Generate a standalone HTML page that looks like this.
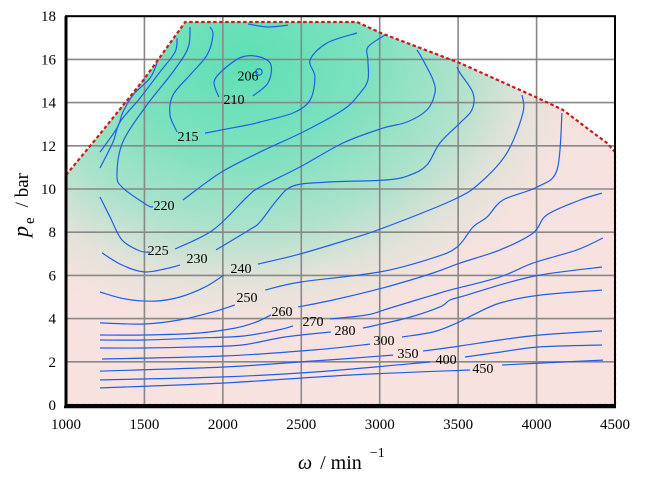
<!DOCTYPE html>
<html><head><meta charset="utf-8"><style>
html,body{margin:0;padding:0;background:#fff;}
svg{display:block;font-family:"Liberation Serif",serif;}
</style></head><body>
<svg id="chart" width="645" height="478" viewBox="0 0 645 478" xmlns="http://www.w3.org/2000/svg">
<defs>
<radialGradient id="fillGrad" gradientUnits="userSpaceOnUse" cx="0" cy="0" r="1" gradientTransform="translate(245,60) scale(390,305)">
<stop offset="0" stop-color="#5fe0b5"/>
<stop offset="0.3" stop-color="#7be1be"/>
<stop offset="0.55" stop-color="#ade2cb"/>
<stop offset="0.72" stop-color="#e2e2d9"/>
<stop offset="0.85" stop-color="#f5e2df"/>
<stop offset="1" stop-color="#f7e2e0"/>
</radialGradient>
<clipPath id="plotClip"><rect x="66" y="16" width="549" height="389"/></clipPath>
</defs>
<g id="fill-layer"></g>
<g id="grid-layer"></g>
<g id="contour-layer" clip-path="url(#plotClip)"></g>
<g id="boundary-layer"></g>
<g id="frame-layer"></g>
<g id="tick-layer"></g>
<text transform="translate(28,205) rotate(-90)" font-size="22" text-anchor="middle"><tspan font-style="italic">p</tspan><tspan font-size="15" dx="2" dy="6">e</tspan><tspan dy="-6" dx="10" font-size="19">/ bar</tspan></text>
<text x="298" y="469" font-size="20"><tspan font-style="italic">ω</tspan><tspan dx="8">/ min</tspan><tspan font-size="14" dx="8" dy="-12">−1</tspan></text>
</svg>
<script>
const xTicks = [1000,1500,2000,2500,3000,3500,4000,4500];
const yTicks = [0,2,4,6,8,10,12,14,16,18];
const boundaryRpm = [1000,1200,1500,1760,2855,3015,3512,4009,4168,4321,4449,4500,4500,1000];
const boundaryBar = [10.65,12.4,15.1,17.73,17.73,17.2,15.83,14.21,13.66,12.82,12.13,11.71,0,0];
const contourLevels = [206,210,210,215,215,220,220,225,225,225,225,230,230,240,240,250,250,260,260,270,270,280,280,300,300,350,350,400,400,450,450];
const contourRpm = [
 [2230],
 [2192,2288,2307,2237,2122,2001,1944,1975],
 [2160,2288,2415],
 [1918,1937,1899,1791,1682,1663,1708],
 [1886,2154,2237,2447,2556,2587,2556,2664,2855],
 [1791,1778,1682,1516,1363,1325,1363,1516,1555],
 [1746,1982,2237,2511,2766,2874,2925,2925,2925,3034],
 [1708,1695,1599,1472,1344,1300,1217],
 [1580,1536,1427,1363,1325,1217],
 [1217,1281,1357,1472,1536],
 [1695,1937,2154,2237,2492,2766,3021,3174,3301,3352,3340,3276,3238],
 [1230,1357,1497,1631,1727],
 [1956,2167,2237,2345,2447,2664,3046,3193,3301,3384,3512,3588,3595,3512,3493],
 [1217,1376,1567,1727,1886,2007],
 [2224,2466,2791,3021,3467,3639,3811,3913,3907],
 [1217,1497,1727,1937,2077],
 [2269,2492,3002,3340,3493,3595,3684,3786,4003,4130,4162],
 [1217,1497,1842,2077,2211,2307],
 [2479,2702,3021,3340,3512,3767,3977,4066,4277,4417],
 [1217,1497,1842,2122,2352,2447],
 [2683,2919,3066,3340,3448,3767,3977,4258,4423],
 [1217,1497,1842,2122,2396,2689],
 [2893,3174,3384,3448,3556,3767,4022,4417],
 [1230,2007,2587,2938],
 [3142,3340,3493,3595,3767,4022,4417],
 [1217,2007,2587,3085],
 [3276,3512,3767,4022,4417],
 [1217,2007,2587,3320],
 [3544,3767,4022,4417],
 [1217,2007,2817,3576],
 [3780,4022,4423]
];
const contourBar = [
 [15.42],
 [14.31,14.91,15.74,16.11,16.11,15.51,14.95,14.26],
 [17.64,17.5,17.59],
 [17.5,17.13,16.2,15.28,14.35,13.43,12.64],
 [12.59,12.96,13.1,13.52,14.12,15.19,15.97,16.76,17.22],
 [17.5,16.53,15.42,13.89,12.18,10.65,10.05,9.26,9.17],
 [9.49,10.74,11.71,12.64,13.66,14.44,15.05,15.97,16.57,17.13],
 [16.99,16.34,15.42,14.21,13.1,12.18,10.97],
 [15.83,15.14,14.35,13.56,12.82,11.71],
 [9.63,8.7,7.64,7.13,7.08],
 [7.22,8.1,9.63,10.09,11.02,12.13,12.82,13.1,13.66,14.44,15.05,15.97,16.44],
 [7.04,6.48,6.16,6.3,6.48],
 [7.18,8.1,8.47,9.49,10.14,10.32,10.42,10.65,11.11,12.13,13.06,13.66,14.44,15.37,15.65],
 [5.23,4.91,4.81,5.0,5.46,6.02],
 [6.53,6.94,7.64,8.19,9.49,10.28,11.67,13.52,14.35],
 [3.8,3.75,3.94,4.31,4.63],
 [5.32,5.69,6.16,6.81,7.31,8.24,8.7,9.49,10.09,10.88,13.52],
 [3.24,3.24,3.33,3.56,3.84,4.17],
 [4.54,4.86,5.42,6.11,6.57,7.18,7.96,8.8,9.49,9.81],
 [3.01,3.01,3.1,3.19,3.47,3.66],
 [3.98,4.17,4.49,5.09,5.32,5.93,6.57,7.18,7.73],
 [2.64,2.64,2.69,2.78,3.15,3.38],
 [3.56,4.03,4.54,4.86,5.09,5.56,6.02,6.39],
 [2.13,2.27,2.55,2.82],
 [3.15,3.38,3.8,4.17,4.72,5.09,5.32],
 [1.57,1.76,2.04,2.31],
 [2.5,2.73,3.01,3.24,3.43],
 [1.16,1.3,1.53,1.99],
 [2.22,2.45,2.69,2.78],
 [0.79,1.02,1.39,1.62],
 [1.85,1.94,2.08]
];
const labelTexts = ["206","210","215","220","225","230","240","250","260","270","280","300","350","400","450"];
const labelRpm = [2160,2071,1778,1625,1587,1835,2116,2154,2377,2575,2779,3027,3180,3423,3658];
const labelBar = [15.25,14.17,12.45,9.26,7.18,6.8,6.34,5.0,4.35,3.89,3.47,3.01,2.41,2.13,1.71];

const NS = "http://www.w3.org/2000/svg";
function X(r){ return 66 + (r-1000)*549/3500; }
function Y(b){ return 405 - b*21.6; }
function mk(tag, attrs, parent){
  const e = document.createElementNS(NS, tag);
  for (const k in attrs) e.setAttribute(k, attrs[k]);
  parent.appendChild(e);
  return e;
}
function smoothPath(pts){
  if (pts.length < 3) return "M" + pts.map(p=>p[0].toFixed(1)+","+p[1].toFixed(1)).join(" L");
  let d = "M" + pts[0][0].toFixed(1) + "," + pts[0][1].toFixed(1);
  for (let i=0;i<pts.length-1;i++){
    const p0 = pts[i-1]||pts[i], p1=pts[i], p2=pts[i+1], p3=pts[i+2]||p2;
    const c1x=p1[0]+(p2[0]-p0[0])/6, c1y=p1[1]+(p2[1]-p0[1])/6;
    const c2x=p2[0]-(p3[0]-p1[0])/6, c2y=p2[1]-(p3[1]-p1[1])/6;
    d += " C"+c1x.toFixed(1)+","+c1y.toFixed(1)+" "+c2x.toFixed(1)+","+c2y.toFixed(1)+" "+p2[0].toFixed(1)+","+p2[1].toFixed(1);
  }
  return d;
}
const fillG = document.getElementById("fill-layer");
const gridG = document.getElementById("grid-layer");
const contG = document.getElementById("contour-layer");
const bndG = document.getElementById("boundary-layer");
const frameG = document.getElementById("frame-layer");
const tickG = document.getElementById("tick-layer");

const bpts = boundaryRpm.map((r,i)=>X(r).toFixed(1)+","+Y(boundaryBar[i]).toFixed(1)).join(" ");
const region = mk("polygon",{points:bpts, fill:"url(#fillGrad)"},fillG);



xTicks.forEach(t=>{
  const l = mk("line",{x1:X(t),x2:X(t),y1:Y(0),y2:Y(18),stroke:"#888",'stroke-width':1.6},gridG);
  
  
  const tx = mk("text",{x:X(t),y:429,'font-size':15,'text-anchor':'middle',fill:"#000"},tickG);
  tx.textContent = t;
  
  
});
yTicks.forEach(t=>{
  const l = mk("line",{x1:X(1000),x2:X(4500),y1:Y(t),y2:Y(t),stroke:"#888",'stroke-width':1.6},gridG);
  
  
  const tx = mk("text",{x:56,y:Y(t)+5,'font-size':15,'text-anchor':'end',fill:"#000"},tickG);
  tx.textContent = t;
  
  
});

contourRpm.forEach((rs,i)=>{
  const bs = contourBar[i];
  if (rs.length === 1){
    const c = mk("circle",{cx:X(rs[0]),cy:Y(bs[0]),r:3.2,fill:"none",stroke:"#1f5fe8",'stroke-width':1.2},contG);
    
    
    return;
  }
  const pts = rs.map((r,j)=>[X(r),Y(bs[j])]);
  const p = mk("path",{d:smoothPath(pts),fill:"none",stroke:"#1f5fe8",'stroke-width':1.2},contG);
  
  
});
labelTexts.forEach((t,i)=>{
  const tx = mk("text",{x:X(labelRpm[i]),y:Y(labelBar[i])+5,'font-size':14,'text-anchor':'middle',fill:"#000"},contG);
  tx.textContent = t;
  
  
});

const bpath = mk("polyline",{points:bpts+" "+X(boundaryRpm[0]).toFixed(1)+","+Y(boundaryBar[0]).toFixed(1),fill:"none",stroke:"#cc1a1a",'stroke-width':2.2,'stroke-dasharray':"3.5,2.5"},bndG);



const fr = mk("rect",{x:X(1000),y:Y(18),width:X(4500)-X(1000),height:Y(0)-Y(18),fill:"none",stroke:"#000",'stroke-width':2},frameG);


const la = mk("line",{x1:X(1000),x2:X(1000),y1:Y(18),y2:Y(0)+3,stroke:"#000",'stroke-width':3},frameG);


const ba = mk("line",{x1:X(1000)-2,x2:X(4500)+1,y1:Y(0)+2,y2:Y(0)+2,stroke:"#000",'stroke-width':2.5},frameG);


</script>
</body></html>
